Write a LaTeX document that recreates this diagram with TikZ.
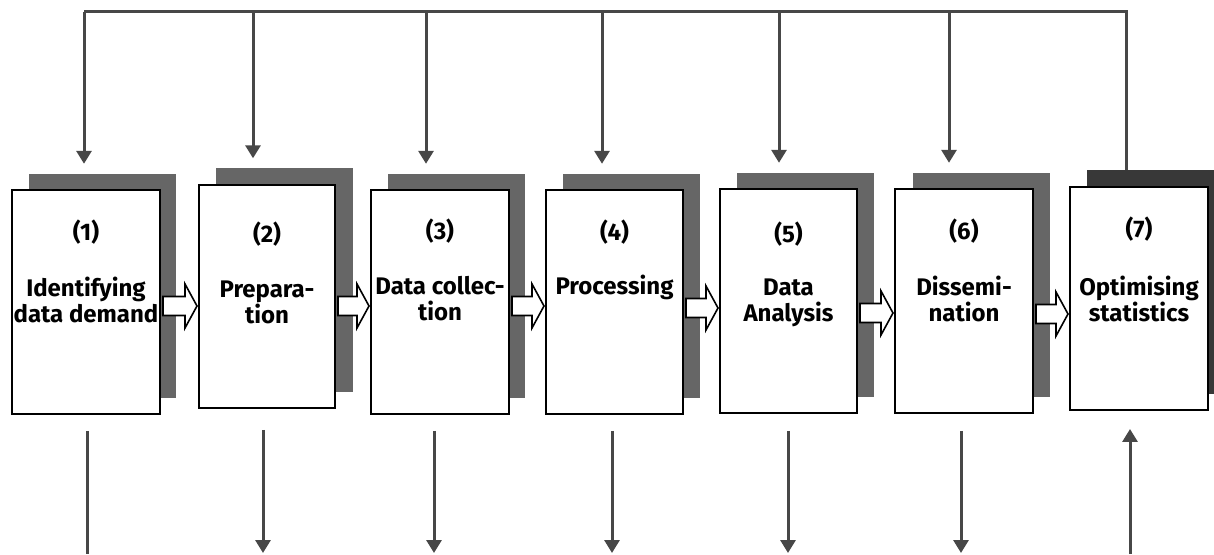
\documentclass[tikz,border=0pt]{standalone}
\usepackage{fontspec}
\setmainfont{Fira Sans}
\usetikzlibrary{arrows.meta,calc}
\begin{document}
\begin{tikzpicture}[x=1pt,y=1pt,
  box/.style={draw=black, line width=2pt, fill=white, minimum height=224pt, inner sep=0pt},
  shadowbox/.style={fill=black!60, minimum height=224pt, inner sep=0pt},
  num/.style={font=\fontsize{24}{26}\selectfont\bfseries, inner sep=0pt},
  lbl/.style={font=\fontsize{24}{26}\selectfont\bfseries, align=center, inner sep=0pt},
  feed/.style={draw=black!72, line width=3pt},
  feedarrow/.style={feed, -{Triangle[width=15pt,length=13pt]}},
  blockarrow/.style={draw=black, line width=1.6pt, fill=white, line join=miter}
]
\useasboundingbox (0,0) rectangle (1214,554);

% shadows
\node[shadowbox, minimum width=147pt] (s1) at (102.5,268) {};
\node[shadowbox, minimum width=137pt] (s2) at (284,273.5) {};
\node[shadowbox, minimum width=137pt] (s3) at (456,268) {};
\node[shadowbox, minimum width=137pt] (s4) at (631,268) {};
\node[shadowbox, minimum width=137pt] (s5) at (805.5,269) {};
\node[shadowbox, minimum width=137pt] (s6) at (981,269) {};
\node[shadowbox, minimum width=138pt, fill=black!78] (s7) at (1156,271.5) {};

% boxes
\node[box, minimum width=148pt] (b1) at (86,252) {};
\node[box, minimum width=136pt, minimum height=223pt] (b2) at (267,257.5) {};
\node[box, minimum width=138pt] (b3) at (440,252) {};
\node[box, minimum width=137pt] (b4) at (614.5,252) {};
\node[box, minimum width=137pt] (b5) at (788.5,253) {};
\node[box, minimum width=138pt] (b6) at (964,253) {};
\node[box, minimum width=138pt, minimum height=223pt] (b7) at (1139,255.5) {};

% texts
\node[num] (n1) at ([yshift=-43pt]b1.north) {(1)};
\node[num] (n2) at ([yshift=-50pt]b2.north) {(2)};
\node[num] (n3) at ([yshift=-42pt]b3.north) {(3)};
\node[num] (n4) at ([yshift=-43pt]b4.north) {(4)};
\node[num] (n5) at ([yshift=-46pt]b5.north) {(5)};
\node[num] (n6) at ([yshift=-43pt]b6.north) {(6)};
\node[num] (n7) at ([yshift=-43pt]b7.north) {(7)};
\node[lbl] (l1) at ([yshift=-110.5pt]b1.north) {Identifying\\data demand};
\node[lbl] (l2) at ([yshift=-118pt]b2.north) {Prepara-\\tion};
\node[lbl] (l3) at ([yshift=-110pt]b3.north) {Data collec-\\tion};
\node[lbl] (l4) at ([yshift=-98pt]b4.north) {Processing};
\node[lbl] (l5) at ([yshift=-114.5pt]b5.north) {Data\\Analysis};
\node[lbl] (l6) at ([yshift=-111pt]b6.north) {Dissemi-\\nation};
\node[lbl] (l7) at ([yshift=-113pt]b7.north) {Optimising\\statistics};

% block arrows between boxes
\newcommand\blockarr[3]{%
  \draw[blockarrow] let \p1=(#1.east), \p2=(#2.west) in
    (\x1+2pt,{554-#3+9.5}) -- (\x2-13pt,{554-#3+9.5}) -- (\x2-13pt,{554-#3+22})
    -- (\x2-1pt,{554-#3}) -- (\x2-13pt,{554-#3-22}) -- (\x2-13pt,{554-#3-9.5})
    -- (\x1+2pt,{554-#3-9.5}) -- cycle;}
\blockarr{b1}{b2}{306}
\blockarr{b2}{b3}{306}
\blockarr{b3}{b4}{306}
\blockarr{b4}{b5}{308}
\blockarr{b5}{b6}{313}
\blockarr{b6}{b7}{314}

% feedback bus on top
\coordinate (t1) at (84,542);
\coordinate (t2) at (253,542);
\coordinate (t3) at (426,542);
\coordinate (t4) at (602,542);
\coordinate (t5) at (779,542);
\coordinate (t6) at (949,542);
\coordinate (t7) at (1126,542);
\draw[feed, line join=miter] (t7 |- s7.north) -- (t7) -- (t1);
\draw[feedarrow] (t1) -- ([yshift=10pt]t1 |- s1.north);
\draw[feedarrow] (t2) -- ([yshift=10pt]t2 |- s2.north);
\draw[feedarrow] (t3) -- ([yshift=10pt]t3 |- s3.north);
\draw[feedarrow] (t4) -- ([yshift=10pt]t4 |- s4.north);
\draw[feedarrow] (t5) -- ([yshift=10pt]t5 |- s5.north);
\draw[feedarrow] (t6) -- ([yshift=10pt]t6 |- s6.north);

% bottom connectors
\coordinate (u1) at (87,0);
\coordinate (u2) at (263,1);
\coordinate (u3) at (434,1);
\coordinate (u4) at (612,1);
\coordinate (u5) at (788,1);
\coordinate (u6) at (961,1);
\coordinate (u7) at (1130,0);
\draw[feed] ([yshift=-16pt]u1 |- b1.south) -- (u1);
\draw[feedarrow] ([yshift=-21pt]u2 |- b2.south) -- (u2);
\draw[feedarrow] ([yshift=-16pt]u3 |- b3.south) -- (u3);
\draw[feedarrow] ([yshift=-16pt]u4 |- b4.south) -- (u4);
\draw[feedarrow] ([yshift=-17pt]u5 |- b5.south) -- (u5);
\draw[feedarrow] ([yshift=-17pt]u6 |- b6.south) -- (u6);
\draw[feedarrow] (u7) -- ([yshift=-18pt]u7 |- b7.south);
\end{tikzpicture}
\end{document}
